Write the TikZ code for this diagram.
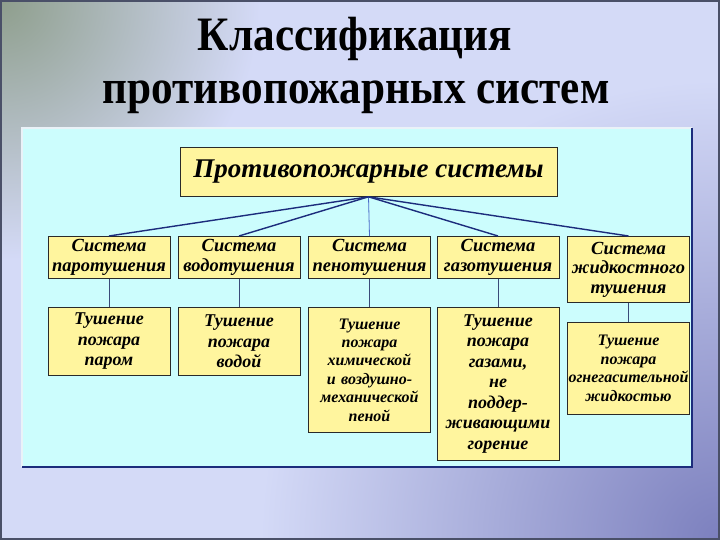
\documentclass[tikz,border=0pt]{standalone}
\usepackage{fontspec}
\setmainfont{Liberation Serif}
\newfontfamily\ppstitlefam[FakeStretch=0.9]{Liberation Serif}
\usetikzlibrary{positioning, calc}
\definecolor{ppsYellow}{HTML}{FFF59E}
\definecolor{ppsCyan}{HTML}{CCFDFD}
\definecolor{ppsNavy}{HTML}{1C2C7C}
\definecolor{ppsStem}{HTML}{3A4A78}
\definecolor{ppsTrunk}{HTML}{4A6AC8}
\definecolor{ppsDark}{HTML}{2A2A2A}
\definecolor{ppsLav}{HTML}{D4DAF7}
\definecolor{ppsPurple}{HTML}{7C80BE}
\definecolor{ppsSage}{HTML}{8E9E8C}
\definecolor{ppsFrame}{HTML}{4A5068}
\definecolor{ppsEdge}{HTML}{EAF2F8}

\begin{document}
\begin{tikzpicture}[
    x=1pt, y=-1pt,
    titlefont/.style={font=\ppstitlefam\bfseries\fontsize{48}{56}\selectfont, inner sep=0pt, anchor=base},
    topbox/.style={
        draw=ppsDark, line width=0.8pt, fill=ppsYellow, anchor=north,
        minimum width=377pt, minimum height=49pt,
        font=\bfseries\itshape\fontsize{27}{30}\selectfont
    },
    sysbox/.style={
        draw=ppsDark, line width=0.8pt, fill=ppsYellow, anchor=north,
        text width=120pt, inner xsep=1pt, inner ysep=1pt, align=center,
        minimum height=42pt, font=\bfseries\itshape\fontsize{18.5}{19.5}\selectfont
    },
    firebox/.style={sysbox, font=\bfseries\itshape\fontsize{18}{20.5}\selectfont},
    smallfire/.style={sysbox, font=\bfseries\itshape\fontsize{16}{18.4}\selectfont},
    link/.style={draw=ppsNavy, line width=1.4pt},
    trunk/.style={draw=ppsTrunk, line width=0.8pt},
    stem/.style={draw=ppsStem, line width=0.8pt}
]

% Slide background
\fill[ppsLav] (0,0) rectangle (720,540);
\begin{scope}
  \clip (0,0) rectangle (720,540);
  \shade[inner color=ppsPurple, outer color=ppsLav] (720,540) circle (460);
  \shade[inner color=ppsSage, outer color=ppsLav] (0,0) circle (260);
\end{scope}
\draw[ppsFrame, line width=2pt] (1,1) rectangle (719,539);

% Title
\node[titlefont] (title) at (355,51) {Классификация};
\node[titlefont] (title2) at (356,104) {противопожарных систем};

% Panel
\fill[ppsCyan] (22,128) rectangle (692,467);
\draw[ppsEdge, line width=1.2pt] (22,467) -- (22,128) -- (692,128);
\draw[ppsNavy, line width=1.5pt] (22,467) -- (692,467) -- (692,128);

% Root
\node[topbox] (pps) at (368.5,147) {Противопожарные системы};

% Row 1: systems
\node[sysbox] (par) at (109,236) {Система\\паротушения};
\node[sysbox] (vod) at (239,236) {Система\\водотушения};
\node[sysbox] (pen) at (369.5,236) {Система\\пенотушения};
\node[sysbox] (gaz) at (498,236) {Система\\газотушения};
\node[sysbox, minimum height=66pt] (zhid) at (628.5,236) {Система\\жидкостного\\тушения};

% Row 2: extinguishing
\node[firebox, minimum height=68pt] (parT) at (109,307) {Тушение\\пожара\\паром};
\node[firebox, minimum height=68pt] (vodT) at (239,307) {Тушение\\пожара\\водой};
\node[smallfire, minimum height=125pt] (penT) at (369.5,307) {Тушение\\пожара\\химической\\и воздушно-\\механической\\пеной};
\node[firebox, minimum height=153pt] (gazT) at (498,307) {Тушение\\пожара\\газами,\\не\\поддер-\\живающими\\горение};
\node[smallfire, minimum height=92pt] (zhidT) at (628.5,322) {Тушение\\пожара\\огнегасительной\\жидкостью};

% Root -> systems
\draw[link] (pps.south) -- (par.north);
\draw[link] (pps.south) -- (vod.north);
\draw[trunk] (pps.south) -- (pen.north);
\draw[link] (pps.south) -- (gaz.north);
\draw[link] (pps.south) -- (zhid.north);

% Systems -> extinguishing
\draw[stem] (par.south) -- (parT.north);
\draw[stem] (vod.south) -- (vodT.north);
\draw[stem] (pen.south) -- (penT.north);
\draw[stem] (gaz.south) -- (gazT.north);
\draw[stem] (zhid.south) -- (zhidT.north);

\end{tikzpicture}
\end{document}
